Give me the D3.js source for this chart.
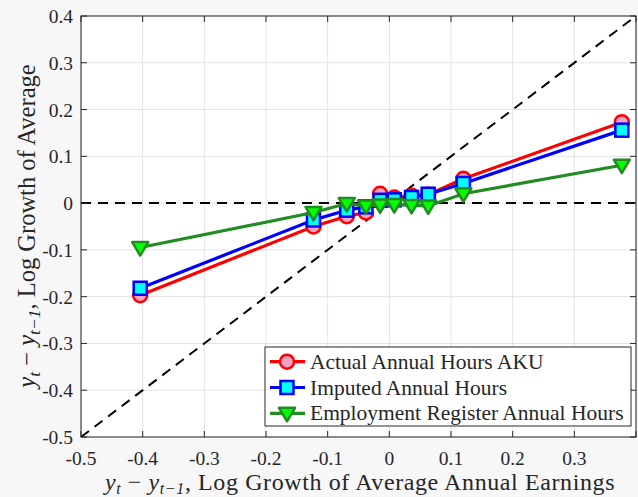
<!DOCTYPE html>
<html><head><meta charset="utf-8">
<script src="https://cdn.jsdelivr.net/npm/d3@7"></script>
<style>
html,body{margin:0;padding:0;background:#f7f7f7;}
svg{display:block;}
text{font-family:"Liberation Serif","Times New Roman",serif;fill:#262626;}
</style></head>
<body>
<svg id="c" width="638" height="497"></svg>
<script>
const xValues = [-0.404, -0.123, -0.069, -0.038, -0.015, 0.008, 0.036, 0.063, 0.120, 0.377];
const actualAKU = [-0.197, -0.050, -0.028, -0.020, 0.020, 0.012, 0.016, 0.018, 0.052, 0.173];
const imputed = [-0.182, -0.036, -0.015, -0.008, 0.006, 0.007, 0.012, 0.019, 0.042, 0.156];
const register = [-0.095, -0.020, -0.001, -0.006, -0.004, -0.003, -0.005, -0.006, 0.020, 0.081];
const xTicks = [-0.5, -0.4, -0.3, -0.2, -0.1, 0, 0.1, 0.2, 0.3];
const yTicks = [-0.5, -0.4, -0.3, -0.2, -0.1, 0, 0.1, 0.2, 0.3, 0.4];
const seriesNames = ["Actual Annual Hours AKU", "Imputed Annual Hours", "Employment Register Annual Hours"];

const FONT = "Liberation Serif, Times New Roman, serif";
const svg = d3.select("#c");
const L = 81, R = 636, T = 16, B = 437;
const x = d3.scaleLinear().domain([-0.5, 0.4]).range([L, R]);
const y = d3.scaleLinear().domain([-0.5, 0.4]).range([B, T]);

svg.append("rect").attr("x", L).attr("y", T).attr("width", R - L).attr("height", B - T).attr("fill", "#fff");

// grid
const g = svg.append("g");
g.selectAll(".gx").data(xTicks.concat([0.4])).enter().append("line")
  .attr("x1", d => x(d)).attr("x2", d => x(d)).attr("y1", T).attr("y2", B)
  .attr("stroke", "#e3e3e3").attr("stroke-width", 1);
g.selectAll(".gy").data(yTicks).enter().append("line")
  .attr("y1", d => y(d)).attr("y2", d => y(d)).attr("x1", L).attr("x2", R)
  .attr("stroke", "#e3e3e3").attr("stroke-width", 1);

// reference lines
svg.append("clipPath").attr("id", "clp").append("rect")
  .attr("x", L).attr("y", T).attr("width", R - L).attr("height", B - T);
const plot = svg.append("g").attr("clip-path", "url(#clp)");
plot.append("line").attr("x1", x(-0.5)).attr("x2", x(0.4)).attr("y1", y(0)).attr("y2", y(0))
  .attr("stroke", "#000").attr("stroke-width", 2).attr("stroke-dasharray", "10,7");
plot.append("line").attr("x1", x(-0.5)).attr("x2", x(0.4)).attr("y1", y(-0.5)).attr("y2", y(0.4))
  .attr("stroke", "#000").attr("stroke-width", 2).attr("stroke-dasharray", "10,7");

const line = d3.line().x(d => x(d[0])).y(d => y(d[1]));
const series = [
  {vals: actualAKU, color: "#ff0000", fill: "#f4a3c4", stroke: "#ff0000", shape: "circle"},
  {vals: imputed, color: "#0000ff", fill: "#00ffff", stroke: "#0000ff", shape: "square"},
  {vals: register, color: "#228b22", fill: "#00ff00", stroke: "#228b22", shape: "tri"}
];
function marker(sel, s, cx, cy) {
  if (s.shape === "circle") {
    sel.append("circle").attr("cx", cx).attr("cy", cy).attr("r", 7)
      .attr("fill", s.fill).attr("stroke", s.stroke).attr("stroke-width", 2.5);
  } else if (s.shape === "square") {
    sel.append("rect").attr("x", cx - 6.5).attr("y", cy - 6.5).attr("width", 13).attr("height", 13)
      .attr("fill", s.fill).attr("stroke", s.stroke).attr("stroke-width", 2.5);
  } else {
    sel.append("path").attr("d", `M${cx - 8},${cy - 5.5}L${cx + 8},${cy - 5.5}L${cx},${cy + 8}Z`)
      .attr("fill", s.fill).attr("stroke", s.stroke).attr("stroke-width", 2.5).attr("stroke-linejoin", "round");
  }
}
series.forEach(s => {
  const pts = xValues.map((v, i) => [v, s.vals[i]]);
  svg.append("path").attr("d", line(pts)).attr("fill", "none")
    .attr("stroke", s.color).attr("stroke-width", 3.2);
  const mg = svg.append("g");
  pts.forEach(p => marker(mg, s, x(p[0]), y(p[1])));
});

// box and ticks
svg.append("rect").attr("x", L).attr("y", T).attr("width", R - L).attr("height", B - T)
  .attr("fill", "none").attr("stroke", "#262626").attr("stroke-width", 1);
const tk = svg.append("g").attr("stroke", "#262626").attr("stroke-width", 1);
xTicks.concat([0.4]).forEach(d => {
  tk.append("line").attr("x1", x(d)).attr("x2", x(d)).attr("y1", B).attr("y2", B - 6);
  tk.append("line").attr("x1", x(d)).attr("x2", x(d)).attr("y1", T).attr("y2", T + 6);
});
yTicks.forEach(d => {
  tk.append("line").attr("y1", y(d)).attr("y2", y(d)).attr("x1", L).attr("x2", L + 6);
  tk.append("line").attr("y1", y(d)).attr("y2", y(d)).attr("x1", R).attr("x2", R - 6);
});
const fmt = d => d === 0 ? "0" : d3.format(".1f")(d).replace("\u2212", "-");
svg.append("g").selectAll("text").data(xTicks).enter().append("text")
  .attr("x", d => x(d)).attr("y", 465).attr("text-anchor", "middle")
  .attr("font-family", FONT).attr("font-size", 19.5).text(fmt);
svg.append("g").selectAll("text").data(yTicks).enter().append("text")
  .attr("x", 73).attr("y", d => y(d) + 7).attr("text-anchor", "end")
  .attr("font-family", FONT).attr("font-size", 19.5).text(fmt);

// axis labels
function mathLabel(t, rest, sub, dy) {
  t.append("tspan").attr("font-style", "italic").text("y");
  t.append("tspan").attr("font-style", "italic").attr("font-size", sub).attr("dy", dy).text("t");
  t.append("tspan").attr("dy", -dy).text(" \u2212 ");
  t.append("tspan").attr("font-style", "italic").text("y");
  t.append("tspan").attr("font-style", "italic").attr("font-size", sub).attr("dy", dy).text("t\u22121");
  t.append("tspan").attr("dy", -dy).text(rest);
}
const xl = svg.append("text").attr("x", 360).attr("y", 490).attr("text-anchor", "middle")
  .attr("font-family", FONT).attr("font-size", 24).attr("letter-spacing", 0.6);
mathLabel(xl, ", Log Growth of Average Annual Earnings", 16, 3.5);
const yl = svg.append("text").attr("transform", "translate(35,226) rotate(-90)").attr("text-anchor", "middle")
  .attr("font-family", FONT).attr("font-size", 24.5);
mathLabel(yl, ", Log Growth of Average", 17.5, 5);

// legend
const lg = svg.append("g");
lg.append("rect").attr("x", 265).attr("y", 347).attr("width", 366).attr("height", 79)
  .attr("fill", "#fff").attr("stroke", "#262626").attr("stroke-width", 1);
series.forEach((s, i) => {
  const cy = 361.7 + i * 25.8;
  lg.append("line").attr("x1", 270).attr("x2", 305).attr("y1", cy).attr("y2", cy)
    .attr("stroke", s.color).attr("stroke-width", 3.2);
  marker(lg, s, 287, cy);
  lg.append("text").attr("x", 310).attr("y", cy + 7).attr("font-family", FONT)
    .attr("font-size", 21.5).text(seriesNames[i]);
});
</script>
</body></html>
